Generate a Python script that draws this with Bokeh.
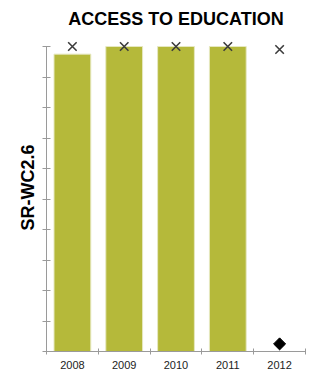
import math
from bokeh.plotting import figure
from bokeh.models import FixedTicker, Range1d, Title, LinearAxis
from bokeh.embed import file_html
from bokeh.resources import INLINE

years = ["2008", "2009", "2010", "2011", "2012"]
bar_values = [97.5, 100, 100, 100, None]
target_values = [100, 100, 100, 100, 99]
diamond_years = ["2012"]
diamond_values = [2.5]
y_ticks = list(range(0, 101, 10))

xpos = [i + 0.5 for i in range(len(years))]
bar_x = [xpos[i] for i, v in enumerate(bar_values) if v is not None]
bar_top = [v for v in bar_values if v is not None]
dia_x = [xpos[years.index(y)] for y in diamond_years]

FONT = "Liberation Sans"
AX = "#9a9a9a"

# extra headroom above 100 so the markers at 100 are not clipped
frame_h = 317
y_end = 100 * frame_h / 305.0

p = figure(frame_width=259, frame_height=frame_h, output_backend="svg",
           toolbar_location=None, x_range=Range1d(0, len(years)),
           y_range=Range1d(0, y_end), y_axis_location=None, x_axis_location=None,
           min_border_left=46, min_border_right=4, min_border_top=34, min_border_bottom=24)
p.outline_line_color = None
p.xgrid.visible = False
p.ygrid.visible = False
p.background_fill_color = "white"

# y axis: ticks only, no labels
yax = LinearAxis(ticker=FixedTicker(ticks=[], minor_ticks=y_ticks), bounds=(0, 100))
yax.axis_line_color = AX
yax.major_tick_line_color = None
yax.minor_tick_line_color = AX
yax.minor_tick_in = 4
yax.minor_tick_out = 4
yax.major_label_standoff = 0
p.add_layout(yax, "left")

# x axis: ticks at category boundaries, labels at centers
xax = LinearAxis(ticker=FixedTicker(ticks=xpos, minor_ticks=list(range(len(years) + 1))))
xax.major_label_overrides = {x: y for x, y in zip(xpos, years)}
xax.axis_line_color = AX
xax.major_tick_line_color = None
xax.minor_tick_line_color = AX
xax.minor_tick_in = 3
xax.minor_tick_out = 3
xax.major_label_text_font = FONT
xax.major_label_text_font_size = "11px"
xax.major_label_text_color = "#222222"
xax.major_label_standoff = 3
p.add_layout(xax, "below")

p.vbar(x=bar_x, top=bar_top, bottom=0, width=0.71, fill_color="#b5b93a",
       line_color="#e6e8c0", line_width=1)

p.scatter(x=xpos, y=target_values, marker="x", size=12, line_color="#3c3c3c", line_width=1.6)
p.scatter(x=dia_x, y=diamond_values, marker="square", size=8.5, angle=math.pi / 4,
          fill_color="black", line_color="black")

t = Title(text="ACCESS TO EDUCATION", align="center", text_font=FONT,
          text_font_size="18px", text_font_style="bold", text_color="black", standoff=12)
p.add_layout(t, "above")

yl = Title(text="SR-WC2.6", align="left", offset=121, text_font=FONT,
           text_font_size="18px", text_font_style="bold", text_color="black", standoff=10)
p.add_layout(yl, "left")

open("out.html", "w").write(file_html(p, INLINE))
